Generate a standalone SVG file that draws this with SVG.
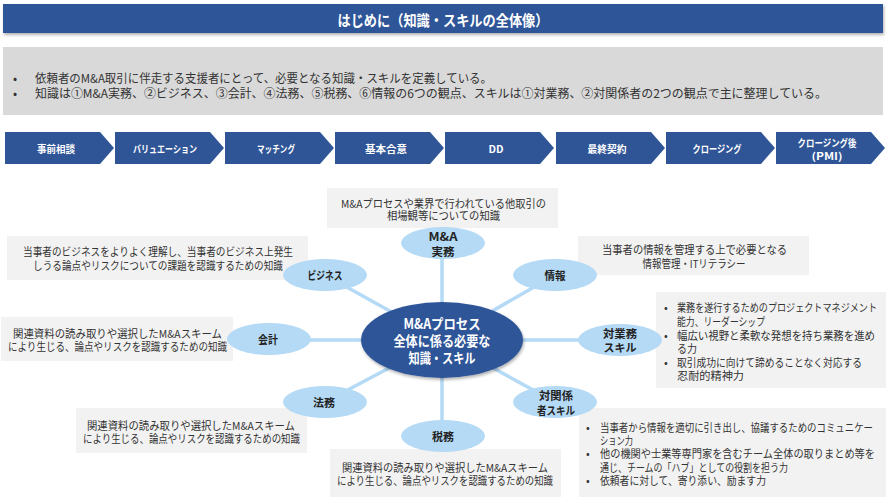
<svg xmlns="http://www.w3.org/2000/svg" width="886" height="497" viewBox="0 0 886 497">
<defs>
<style>
text{font-family:"Noto Sans CJK JP","Noto Sans CJK SC",sans-serif;dominant-baseline:central}
.hdr{fill:#2F5597}
.chev{fill:#2F5597}
.ctext{fill:#fff;font-size:10px;font-weight:bold;text-anchor:middle}
.gbox{fill:#F2F2F2}
.body{fill:#333;font-size:11px}
.mid{text-anchor:middle}
.sat{fill:#B4DAF5}
.slab{fill:#222;font-size:11px;font-weight:bold;text-anchor:middle}
.conn{stroke:#B4DAF5;stroke-width:3.5;fill:none}
.center{fill:#2F5597}
.ctr{fill:#fff;font-size:14px;font-weight:bold;text-anchor:middle}
</style>
<filter id="sh" x="-10%" y="-20%" width="130%" height="160%">
<feDropShadow dx="1" dy="2" stdDeviation="1.5" flood-color="#000" flood-opacity="0.3"/>
</filter>
</defs>
<rect width="886" height="497" fill="#fff"/>

<g id="header">
<rect class="hdr" x="3" y="4" width="880" height="29" filter="url(#sh)"/>
<text x="443" y="19" fill="#fff" font-size="15" font-weight="bold" text-anchor="middle" textLength="211" lengthAdjust="spacingAndGlyphs">はじめに（知識・スキルの全体像）</text>
</g>

<g id="intro">
<rect x="3" y="47" width="880" height="68" fill="#D9D9D9"/>
<text x="13" y="77" font-size="12" fill="#333">•</text>
<text x="35" y="77" font-size="12" fill="#333" textLength="457" lengthAdjust="spacingAndGlyphs">依頼者のM&amp;A取引に伴走する支援者にとって、必要となる知識・スキルを定義している。</text>
<text x="13" y="92" font-size="12" fill="#333">•</text>
<text x="35" y="92" font-size="12" fill="#333" textLength="792" lengthAdjust="spacingAndGlyphs">知識は①M&amp;A実務、②ビジネス、③会計、④法務、⑤税務、⑥情報の6つの観点、スキルは①対業務、②対関係者の2つの観点で主に整理している。</text>
</g>

<g id="process">
<g id="step1"><polygon class="chev" points="5,132 100,132 114,148 100,164 5,164"/><text class="ctext" x="56" y="148" textLength="38" lengthAdjust="spacingAndGlyphs">事前相談</text></g>
<g id="step2"><polygon class="chev" points="115,132 210,132 224,148 210,164 115,164"/><text class="ctext" x="165" y="148" textLength="64" lengthAdjust="spacingAndGlyphs">バリュエーション</text></g>
<g id="step3"><polygon class="chev" points="225,132 320,132 334,148 320,164 225,164"/><text class="ctext" x="276" y="148" textLength="38" lengthAdjust="spacingAndGlyphs">マッチング</text></g>
<g id="step4"><polygon class="chev" points="335,132 430,132 444,148 430,164 335,164"/><text class="ctext" x="386" y="148" textLength="42" lengthAdjust="spacingAndGlyphs">基本合意</text></g>
<g id="step5"><polygon class="chev" points="445,132 540,132 554,148 540,164 445,164"/><text class="ctext" x="496" y="148" textLength="15" lengthAdjust="spacingAndGlyphs">DD</text></g>
<g id="step6"><polygon class="chev" points="556,132 651,132 665,148 651,164 556,164"/><text class="ctext" x="607" y="148" textLength="39" lengthAdjust="spacingAndGlyphs">最終契約</text></g>
<g id="step7"><polygon class="chev" points="666,132 761,132 775,148 761,164 666,164"/><text class="ctext" x="717" y="148" textLength="49" lengthAdjust="spacingAndGlyphs">クロージング</text></g>
<g id="step8"><polygon class="chev" points="776,132 871,132 885,148 871,164 776,164"/><text class="ctext" x="827" y="142" textLength="59" lengthAdjust="spacingAndGlyphs">クロージング後</text><text class="ctext" x="827" y="155" textLength="31" lengthAdjust="spacingAndGlyphs">(PMI)</text></g>
</g>

<g id="connectors">
<line class="conn" x1="442" y1="340" x2="442" y2="243"/>
<line class="conn" x1="442" y1="340" x2="442" y2="436"/>
<line class="conn" x1="442" y1="340" x2="269" y2="340"/>
<line class="conn" x1="442" y1="340" x2="620" y2="340"/>
<line class="conn" x1="442" y1="340" x2="325" y2="275"/>
<line class="conn" x1="442" y1="340" x2="555" y2="275"/>
<line class="conn" x1="442" y1="340" x2="325" y2="402"/>
<line class="conn" x1="442" y1="340" x2="555" y2="402"/>
</g>

<g id="box-ma">
<rect class="gbox" x="327" y="188" width="231" height="40"/>
<text class="body mid" x="443.5" y="203" textLength="205" lengthAdjust="spacingAndGlyphs">M&amp;Aプロセスや業界で行われている他取引の</text>
<text class="body mid" x="443.5" y="215" textLength="113" lengthAdjust="spacingAndGlyphs">相場観等についての知識</text>
</g>
<g id="box-biz">
<rect class="gbox" x="7" y="236" width="301" height="44"/>
<text class="body mid" x="158" y="251" textLength="270" lengthAdjust="spacingAndGlyphs">当事者のビジネスをよりよく理解し、当事者のビジネス上発生</text>
<text class="body mid" x="158" y="265" textLength="250" lengthAdjust="spacingAndGlyphs">しうる論点やリスクについての課題を認識するための知識</text>
</g>
<g id="box-info">
<rect class="gbox" x="578" y="236" width="231" height="39"/>
<text class="body mid" x="694.5" y="249" textLength="185" lengthAdjust="spacingAndGlyphs">当事者の情報を管理する上で必要となる</text>
<text class="body mid" x="694" y="263" textLength="103" lengthAdjust="spacingAndGlyphs">情報管理・ITリテラシー</text>
</g>
<g id="box-acc">
<rect class="gbox" x="1" y="317" width="232" height="44"/>
<text class="body mid" x="117.5" y="333" textLength="209" lengthAdjust="spacingAndGlyphs">関連資料の読み取りや選択したM&amp;Aスキーム</text>
<text class="body mid" x="117.5" y="346" textLength="219" lengthAdjust="spacingAndGlyphs">により生じる、論点やリスクを認識するための知識</text>
</g>
<g id="box-biztask">
<rect class="gbox" x="656" y="292" width="230" height="96"/>
<text class="body" x="664" y="307">•</text>
<text class="body" x="677" y="307" textLength="200" lengthAdjust="spacingAndGlyphs">業務を遂行するためのプロジェクトマネジメント</text>
<text class="body" x="677" y="321" textLength="88" lengthAdjust="spacingAndGlyphs">能力、リーダーシップ</text>
<text class="body" x="664" y="335">•</text>
<text class="body" x="677" y="335" textLength="198" lengthAdjust="spacingAndGlyphs">幅広い視野と柔軟な発想を持ち業務を進め</text>
<text class="body" x="677" y="348" textLength="20" lengthAdjust="spacingAndGlyphs">る力</text>
<text class="body" x="664" y="362">•</text>
<text class="body" x="677" y="362" textLength="185" lengthAdjust="spacingAndGlyphs">取引成功に向けて諦めることなく対応する</text>
<text class="body" x="677" y="375" textLength="67" lengthAdjust="spacingAndGlyphs">忍耐的精神力</text>
</g>
<g id="box-legal">
<rect class="gbox" x="76" y="408" width="231" height="45"/>
<text class="body mid" x="191" y="425" textLength="208" lengthAdjust="spacingAndGlyphs">関連資料の読み取りや選択したM&amp;Aスキーム</text>
<text class="body mid" x="191.5" y="438" textLength="217" lengthAdjust="spacingAndGlyphs">により生じる、論点やリスクを認識するための知識</text>
</g>
<g id="box-tax">
<rect class="gbox" x="330" y="449" width="231" height="48"/>
<text class="body mid" x="445" y="467" textLength="206" lengthAdjust="spacingAndGlyphs">関連資料の読み取りや選択したM&amp;Aスキーム</text>
<text class="body mid" x="445" y="480" textLength="216" lengthAdjust="spacingAndGlyphs">により生じる、論点やリスクを認識するための知識</text>
</g>
<g id="box-rel">
<rect class="gbox" x="579" y="408" width="307" height="89"/>
<text class="body" x="586" y="427">•</text>
<text class="body" x="600" y="427" textLength="273" lengthAdjust="spacingAndGlyphs">当事者から情報を適切に引き出し、協議するためのコミュニケー</text>
<text class="body" x="600" y="440" textLength="33" lengthAdjust="spacingAndGlyphs">ション力</text>
<text class="body" x="586" y="453">•</text>
<text class="body" x="600" y="453" textLength="275" lengthAdjust="spacingAndGlyphs">他の機関や士業等専門家を含むチーム全体の取りまとめ等を</text>
<text class="body" x="600" y="467" textLength="188" lengthAdjust="spacingAndGlyphs">通じ、チームの「ハブ」としての役割を担う力</text>
<text class="body" x="586" y="480">•</text>
<text class="body" x="600" y="480" textLength="166" lengthAdjust="spacingAndGlyphs">依頼者に対して、寄り添い、励ます力</text>
</g>

<g id="node-center">
<ellipse class="center" cx="442" cy="340" rx="81" ry="38" filter="url(#sh)"/>
<text class="ctr" x="442" y="323" textLength="77" lengthAdjust="spacingAndGlyphs">M&amp;Aプロセス</text>
<text class="ctr" x="442" y="340" textLength="97" lengthAdjust="spacingAndGlyphs">全体に係る必要な</text>
<text class="ctr" x="442" y="357" textLength="67" lengthAdjust="spacingAndGlyphs">知識・スキル</text>
</g>
<g id="node-ma">
<ellipse class="sat" cx="443" cy="243" rx="42" ry="16"/>
<text class="slab" x="443" y="236" textLength="29" lengthAdjust="spacingAndGlyphs">M&amp;A</text>
<text class="slab" x="443" y="251" textLength="23" lengthAdjust="spacingAndGlyphs">実務</text>
</g>
<g id="node-biz">
<ellipse class="sat" cx="325" cy="275" rx="42" ry="16"/>
<text class="slab" x="325" y="275" textLength="35" lengthAdjust="spacingAndGlyphs">ビジネス</text>
</g>
<g id="node-info">
<ellipse class="sat" cx="555" cy="275" rx="42" ry="16"/>
<text class="slab" x="555" y="275" textLength="21" lengthAdjust="spacingAndGlyphs">情報</text>
</g>
<g id="node-acc">
<ellipse class="sat" cx="269" cy="339" rx="42" ry="16"/>
<text class="slab" x="268" y="339" textLength="20" lengthAdjust="spacingAndGlyphs">会計</text>
</g>
<g id="node-biztask">
<ellipse class="sat" cx="620" cy="340" rx="42" ry="16"/>
<text class="slab" x="620" y="333" textLength="34" lengthAdjust="spacingAndGlyphs">対業務</text>
<text class="slab" x="620" y="347" textLength="33" lengthAdjust="spacingAndGlyphs">スキル</text>
</g>
<g id="node-legal">
<ellipse class="sat" cx="325" cy="402" rx="42" ry="16"/>
<text class="slab" x="324" y="402" textLength="22" lengthAdjust="spacingAndGlyphs">法務</text>
</g>
<g id="node-rel">
<ellipse class="sat" cx="555" cy="402" rx="42" ry="16"/>
<text class="slab" x="556" y="395" textLength="34" lengthAdjust="spacingAndGlyphs">対関係</text>
<text class="slab" x="556" y="410" textLength="38" lengthAdjust="spacingAndGlyphs">者スキル</text>
</g>
<g id="node-tax">
<ellipse class="sat" cx="443" cy="436" rx="42" ry="16"/>
<text class="slab" x="443" y="436" textLength="22" lengthAdjust="spacingAndGlyphs">税務</text>
</g>
</svg>
